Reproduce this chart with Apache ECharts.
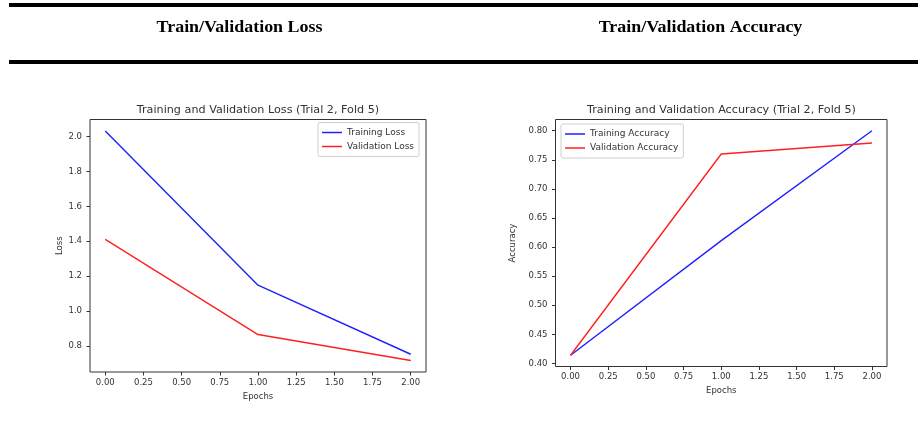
<!DOCTYPE html>
<html>
<head>
<meta charset="utf-8">
<script src="https://cdn.jsdelivr.net/npm/echarts@6/dist/echarts.min.js"></script>
<style>
html,body{margin:0;padding:0;background:#fff;}
#chart{width:922px;height:423px;}
</style>
</head>
<body>
<div id="chart"></div>
<script>
// ---- data ----
const epochs = [0, 1, 2];
const trainLoss = [2.032, 1.148, 0.752];
const valLoss = [1.411, 0.865, 0.716];
const trainAcc = [0.414, 0.611, 0.800];
const valAcc = [0.414, 0.760, 0.779];
const xTicks = [0, 0.25, 0.5, 0.75, 1.0, 1.25, 1.5, 1.75, 2.0];
const lossTicks = [0.8, 1.0, 1.2, 1.4, 1.6, 1.8, 2.0];
const accTicks = [0.40, 0.45, 0.50, 0.55, 0.60, 0.65, 0.70, 0.75, 0.80];
const headerLeft = 'Train/Validation Loss';
const headerRight = 'Train/Validation Accuracy';
const titleLoss = 'Training and Validation Loss (Trial 2, Fold 5)';
const titleAcc = 'Training and Validation Accuracy (Trial 2, Fold 5)';

function pad(arrs){
  const all = [].concat(...arrs);
  const mn = Math.min(...all), mx = Math.max(...all);
  const m = (mx - mn) * 0.05;
  return [mn - m, mx + m];
}
const xr = pad([epochs]);
const lr = pad([trainLoss, valLoss]);
const ar = pad([trainAcc, valAcc]);
const pairs = (ys) => epochs.map((e, i) => [e, ys[i]]);

const FONT = 'DejaVu Sans';
const TXT = '#333';
const FS = 8.5;

function xAxis(gi){
  return {
    type: 'value', gridIndex: gi, min: xr[0], max: xr[1], position: 'bottom',
    name: 'Epochs', nameLocation: 'middle', nameGap: 18,
    nameTextStyle: {fontFamily: FONT, fontSize: FS, color: TXT},
    axisLine: {show: false, onZero: false},
    axisTick: {show: true, length: 3.5, lineStyle: {color: '#333'}, customValues: xTicks},
    axisLabel: {fontFamily: FONT, fontSize: FS, color: TXT, margin: 6,
      customValues: xTicks, formatter: v => v.toFixed(2)},
    splitLine: {show: false}
  };
}
function yAxis(gi, r, ticks, dec, name, gap){
  return {
    type: 'value', gridIndex: gi, min: r[0], max: r[1], position: 'left',
    name: name, nameLocation: 'middle', nameGap: gap, nameRotate: 90,
    nameTextStyle: {fontFamily: FONT, fontSize: FS, color: TXT},
    axisLine: {show: false, onZero: false},
    axisTick: {show: true, length: 3.5, lineStyle: {color: '#333'}, customValues: ticks},
    axisLabel: {fontFamily: FONT, fontSize: FS, color: TXT, margin: 8,
      customValues: ticks, formatter: v => v.toFixed(dec)},
    splitLine: {show: false}
  };
}
function legend(left, top, names){
  return {
    data: names, orient: 'vertical', left: left, top: top,
    icon: 'rect', itemWidth: 20, itemHeight: 1.5, itemGap: 2,
    padding: [4, 5, 4, 4],
    borderColor: '#d0d0d0', borderWidth: 1, borderRadius: 2,
    backgroundColor: 'rgba(255,255,255,0.8)',
    textStyle: {fontFamily: FONT, fontSize: 9, color: TXT, lineHeight: 12},
    selectedMode: false
  };
}

const chart = echarts.init(document.getElementById('chart'), null, {renderer: 'canvas'});
chart.setOption({
  backgroundColor: '#fff',
  animation: false,
  grid: [
    {left: 90, top: 119.5, width: 336, height: 252.5, show: true, borderColor: '#333', borderWidth: 1, backgroundColor: 'transparent'},
    {left: 555.5, top: 119.5, width: 331.5, height: 247, show: true, borderColor: '#333', borderWidth: 1, backgroundColor: 'transparent'}
  ],
  xAxis: [xAxis(0), xAxis(1)],
  yAxis: [
    yAxis(0, lr, lossTicks, 1, 'Loss', 25),
    yAxis(1, ar, accTicks, 2, 'Accuracy', 38)
  ],
  legend: [
    legend(318, 122.5, ['Training Loss', 'Validation Loss']),
    legend(561, 124, ['Training Accuracy', 'Validation Accuracy'])
  ],
  series: [
    {name: 'Training Loss', type: 'line', xAxisIndex: 0, yAxisIndex: 0, data: pairs(trainLoss), showSymbol: false, symbol: 'none', color: '#2020ff', lineStyle: {width: 1.4, color: '#2020ff'}},
    {name: 'Validation Loss', type: 'line', xAxisIndex: 0, yAxisIndex: 0, data: pairs(valLoss), showSymbol: false, symbol: 'none', color: '#ff2020', lineStyle: {width: 1.4, color: '#ff2020'}},
    {name: 'Training Accuracy', type: 'line', xAxisIndex: 1, yAxisIndex: 1, data: pairs(trainAcc), showSymbol: false, symbol: 'none', color: '#2020ff', lineStyle: {width: 1.4, color: '#2020ff'}},
    {name: 'Validation Accuracy', type: 'line', xAxisIndex: 1, yAxisIndex: 1, data: pairs(valAcc), showSymbol: false, symbol: 'none', color: '#ff2020', lineStyle: {width: 1.4, color: '#ff2020'}}
  ],
  graphic: [
    {type: 'rect', left: 9, top: 3, shape: {width: 909, height: 4}, style: {fill: '#000'}},
    {type: 'rect', left: 9, top: 60, shape: {width: 909, height: 4}, style: {fill: '#000'}},
    {type: 'text', x: 239.5, y: 28, scaleX: 1.12, style: {text: headerLeft, fontFamily: 'Liberation Serif', fontWeight: 'bold', fontSize: 16, fill: '#000', align: 'center', verticalAlign: 'middle'}},
    {type: 'text', x: 700.5, y: 28, scaleX: 1.12, style: {text: headerRight, fontFamily: 'Liberation Serif', fontWeight: 'bold', fontSize: 16, fill: '#000', align: 'center', verticalAlign: 'middle'}},
    {type: 'text', x: 258, y: 110, style: {text: titleLoss, fontFamily: FONT, fontSize: 11.2, fill: TXT, align: 'center', verticalAlign: 'middle'}},
    {type: 'text', x: 721.5, y: 110, style: {text: titleAcc, fontFamily: FONT, fontSize: 11.2, fill: TXT, align: 'center', verticalAlign: 'middle'}}
  ]
});
</script>
</body>
</html>
